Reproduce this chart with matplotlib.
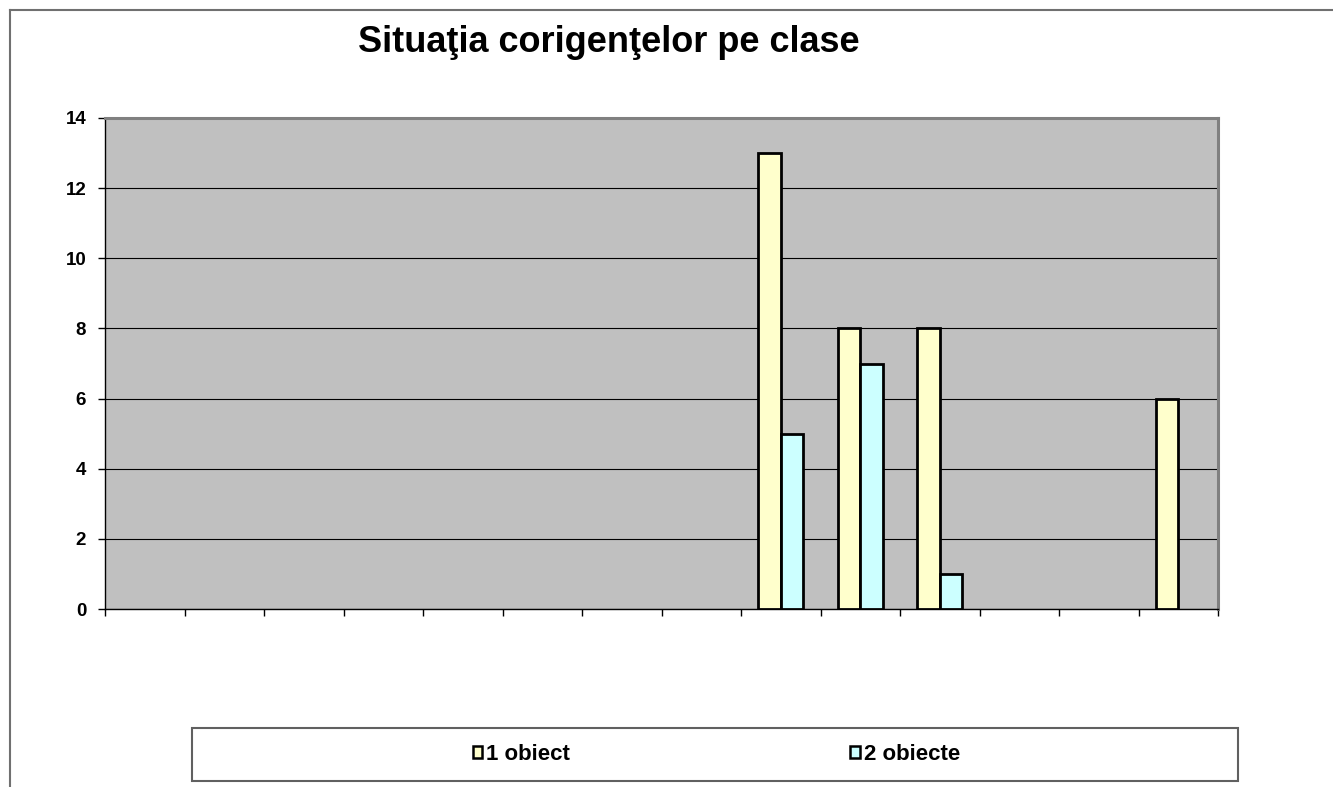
import matplotlib
matplotlib.use("Agg")
import matplotlib.pyplot as plt
import numpy as np
from matplotlib.lines import Line2D
from matplotlib.patches import Rectangle

plt.rcParams['font.family'] = ['Liberation Sans', 'DejaVu Sans']

title = "Situaţia corigenţelor pe clase"
categories = [""] * 14
series_names = ["1 obiect", "2 obiecte"]
obiect1 = [0, 0, 0, 0, 0, 0, 0, 0, 13, 8, 8, 0, 0, 6]
obiecte2 = [0, 0, 0, 0, 0, 0, 0, 0, 5, 7, 1, 0, 0, 0]
yticks = [0, 2, 4, 6, 8, 10, 12, 14]

W, H = 1333, 787
fig = plt.figure(figsize=(W / 100, H / 100), dpi=100)
fig.patch.set_facecolor('white')

# outer chart border (top and left visible)
fig.add_artist(Line2D([10 / W, 1.0], [1 - 10 / H, 1 - 10 / H], color='#707070', lw=1.5,
                      transform=fig.transFigure))
fig.add_artist(Line2D([10 / W, 10 / W], [1 - 10 / H, 0.0], color='#707070', lw=1.5,
                      transform=fig.transFigure))

ax = fig.add_axes([105 / W, 1 - 609 / H, (1218 - 105) / W, (609 - 118) / H])
ax.set_facecolor('#C0C0C0')

n = len(categories)
x = np.arange(n) + 0.5
w = 1 / 3.5
v1 = np.array(obiect1, dtype=float)
v2 = np.array(obiecte2, dtype=float)
b1 = ax.bar(x - w / 2, np.where(v1 > 0, v1, np.nan), width=w, color='#FFFFCC',
            edgecolor='black', linewidth=2, label=series_names[0], zorder=3)
b2 = ax.bar(x + w / 2, np.where(v2 > 0, v2, np.nan), width=w, color='#CCFFFF',
            edgecolor='black', linewidth=2, label=series_names[1], zorder=3)

ax.set_xlim(0, n)
ax.set_ylim(0, 14)
ax.set_yticks(yticks)
ax.set_yticklabels([str(t) for t in yticks], fontweight='bold', fontsize=13.5)
ax.set_xticks(np.arange(n + 1))
ax.set_xticklabels([""] * (n + 1))
ax.tick_params(axis='y', direction='out', length=5, width=1, pad=8.5)
ax.tick_params(axis='x', direction='out', length=5, width=1)
ax.yaxis.grid(True, color='black', linewidth=0.8, zorder=1)
ax.set_axisbelow(True)

for s in ['left', 'bottom']:
    ax.spines[s].set_color('black')
    ax.spines[s].set_linewidth(1)
for s in ['top', 'right']:
    ax.spines[s].set_color('#808080')
    ax.spines[s].set_linewidth(2.2)

fig.text(608.5 / W, 1 - 42 / H, title, ha='center', va='center', fontsize=26,
         fontweight='bold')

# legend box
fig.add_artist(Rectangle((192 / W, 1 - 781 / H), (1238 - 192) / W, (781 - 728) / H,
                         transform=fig.transFigure, facecolor='white', edgecolor='#606060',
                         lw=1.5))
leg = fig.legend(handles=[b1, b2], labels=series_names, loc='center',
                 bbox_to_anchor=(716.5 / W, 1 - 754 / H), ncol=2, frameon=False,
                 prop={'weight': 'bold', 'size': 16}, handlelength=0.42, handleheight=0.45,
                 handletextpad=0.18, columnspacing=12.6)
for h in leg.legend_handles:
    h.set_linewidth(1.8)

fig.savefig('out.png', dpi=100)
